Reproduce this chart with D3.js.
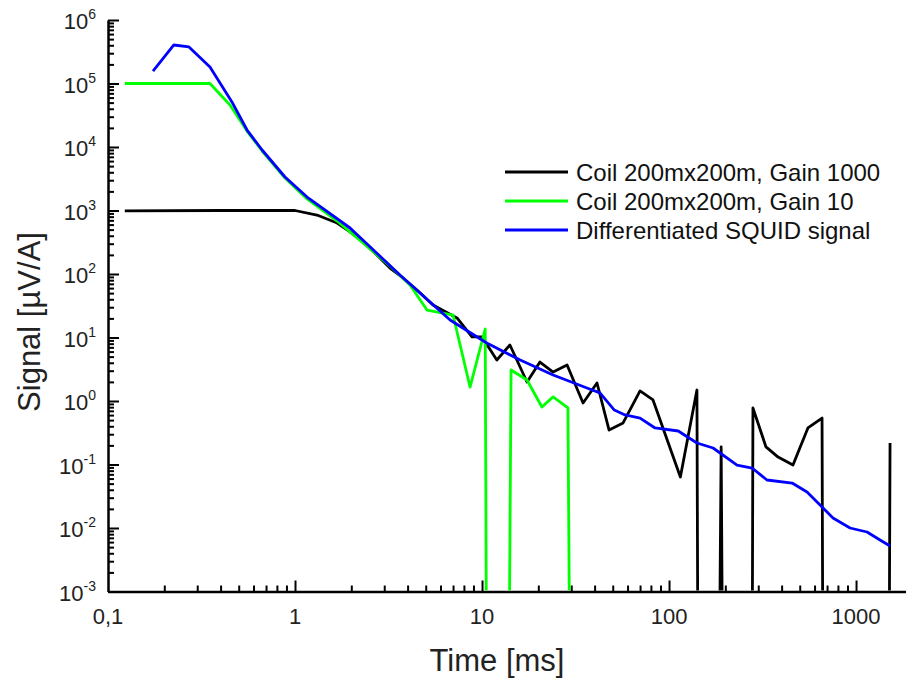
<!DOCTYPE html>
<html>
<head>
<meta charset="utf-8">
<script src="https://cdnjs.cloudflare.com/ajax/libs/d3/7.8.5/d3.min.js"></script>
<style>
  body { margin: 0; background: #fff; }
  svg { display: block; font-family: "Liberation Sans", Arial, sans-serif; }
</style>
</head>
<body>
<script>
// Coil 200mx200m, Gain 1000 (0 = value below the log range)
var time1000 = [0.123, 0.4, 1.0, 1.31, 1.68, 1.97, 2.31, 2.74, 3.22, 3.78, 4.49, 5.47, 7.35, 8.84, 10.0,
    12.0, 14.1, 17.4, 20.4, 24.0, 28.5, 34.7, 41.2, 47.8, 56.8, 70.0, 82.1, 115, 141, 143,
    185, 190, 194, 278, 281, 330, 383, 460, 553, 658, 666, 1500, 1520];
var signal1000 = [990, 1000, 1000, 849, 636, 459, 319, 199, 124, 86.5, 56, 32.5, 20.3, 10.2, 10.2,
    4.42, 7.62, 1.99, 4.11, 2.86, 3.69, 0.93, 1.92, 0.349, 0.451, 1.44, 1.04, 0.0635, 1.49, 0,
    0, 0.189, 0, 0, 0.776, 0.189, 0.131, 0.098, 0.376, 0.539, 0, 0, 0.218];

// Coil 200mx200m, Gain 10
var time10 = [0.123, 0.351, 0.449, 0.554, 0.667, 0.884, 1.16, 1.68, 2.31, 3.22, 4.12, 5.08, 7.0,
    8.63, 10.4, 10.6, 13.9, 14.3, 17.4, 20.9, 24.0, 28.8, 29.6];
var signal10 = [1e5, 1e5, 4.58e4, 1.78e4, 8650, 3250, 1520, 683, 308, 134, 67.1, 27.1, 22.6,
    1.66, 13.6, 0, 0, 3.08, 2.14, 0.806, 1.16, 0.776, 0];

// Differentiated SQUID signal
var timeSquid = [0.174, 0.225, 0.271, 0.351, 0.46, 0.554, 0.667, 0.884, 1.16, 1.97, 3.64, 6.75,
    10.6, 16.0, 24.0, 36.4, 42.7, 51.0, 58.2, 70.0, 84.2, 112, 141, 172, 231, 278, 334, 455, 547,
    753, 929, 1145, 1344, 1520];
var signalSquid = [1.57e5, 4.04e5, 3.76e5, 1.82e5, 5.12e4, 1.85e4, 8970, 3370, 1630, 530, 96.4, 18.9,
    8.19, 4.42, 2.57, 1.60, 1.34, 0.72, 0.603, 0.539, 0.376, 0.337, 0.218, 0.182, 0.098, 0.088, 0.057,
    0.051, 0.0369, 0.0144, 0.010, 0.00865, 0.00647, 0.00521];

var seriesNames = ["Coil 200mx200m, Gain 1000", "Coil 200mx200m, Gain 10", "Differentiated SQUID signal"];
var seriesColors = ["#000000", "#00ff00", "#0000ff"];

var xMajorTicks = [1, 10, 100, 1000];
var xTickLabels = ["0,1", "1", "10", "100", "1000"];
var xLabelValues = [0.1, 1, 10, 100, 1000];
var yExponents = [-3, -2, -1, 0, 1, 2, 3, 4, 5, 6];

(function () {

    var w = 906, h = 681;
    var pLeft = 108, pRight = 906, pTop = 20, pBottom = 591.5;

    var svg = d3.select("body").append("svg")
        .attr("width", w)
        .attr("height", h);

    var x = d3.scaleLog().domain([0.1, 1850]).range([pLeft, pRight]);
    var y = d3.scaleLog().domain([1e-3, 1e6]).range([pBottom, pTop]);

    function isPow10(v) {
        var l = Math.log10(v);
        return Math.abs(l - Math.round(l)) < 1e-9;
    }

    // minor ticks, then major ticks (both point inward)
    var xMinor = x.ticks().filter(function (v) { return !isPow10(v); });
    var yMinor = y.ticks().filter(function (v) { return !isPow10(v); });

    svg.append("g")
        .attr("transform", "translate(0," + pBottom + ")")
        .call(d3.axisBottom(x).tickValues(xMinor).tickSizeInner(-6).tickSizeOuter(0).tickFormat(""))
        .call(function (g) { g.select(".domain").remove(); })
        .selectAll("line").attr("stroke-width", 2);

    svg.append("g")
        .attr("transform", "translate(" + pLeft + ",0)")
        .call(d3.axisLeft(y).tickValues(yMinor).tickSizeInner(-6).tickSizeOuter(0).tickFormat(""))
        .call(function (g) { g.select(".domain").remove(); })
        .selectAll("line").attr("stroke-width", 2);

    var xAxis = svg.append("g")
        .attr("transform", "translate(0," + pBottom + ")")
        .call(d3.axisBottom(x).tickValues(xMajorTicks).tickSizeInner(-11).tickSizeOuter(0).tickFormat(""));
    xAxis.select(".domain").attr("stroke-width", 2.5);
    xAxis.selectAll("line").attr("stroke-width", 2);

    var yAxis = svg.append("g")
        .attr("transform", "translate(" + pLeft + ",0)")
        .call(d3.axisLeft(y).tickValues(yExponents.map(function (e) { return Math.pow(10, e); }))
            .tickSizeInner(-11).tickSizeOuter(0).tickFormat(""));
    yAxis.select(".domain").attr("stroke-width", 2.5);
    yAxis.selectAll("line").attr("stroke-width", 2);

    // x tick labels
    svg.append("g").selectAll("text")
        .data(xLabelValues)
        .enter()
        .append("text")
        .attr("x", function (d) { return x(d); })
        .attr("y", pBottom + 32)
        .attr("text-anchor", "middle")
        .attr("font-size", 22)
        .attr("fill", "#222")
        .text(function (d, i) { return xTickLabels[i]; });

    // y tick labels 10^n
    var yLab = svg.append("g").selectAll("text")
        .data(yExponents)
        .enter()
        .append("text")
        .attr("x", pLeft - 12)
        .attr("y", function (d) { return y(Math.pow(10, d)) + 9; })
        .attr("text-anchor", "end")
        .attr("font-size", 22)
        .attr("fill", "#222");
    yLab.append("tspan").text("10");
    yLab.append("tspan")
        .attr("dy", -10)
        .attr("font-size", 14)
        .text(function (d) { return d; });

    // data lines, clipped at the axes
    svg.append("clipPath").attr("id", "plot")
        .append("rect")
        .attr("x", pLeft).attr("y", 0)
        .attr("width", pRight - pLeft).attr("height", pBottom - 1);

    var line = d3.line()
        .x(function (d) { return x(d[0]); })
        .y(function (d) { return y(d[1] > 0 ? d[1] : 1e-5); });

    var series = [
        d3.zip(time1000, signal1000),
        d3.zip(time10, signal10),
        d3.zip(timeSquid, signalSquid)
    ];

    svg.append("g").attr("clip-path", "url(#plot)")
        .selectAll("path")
        .data(series)
        .enter()
        .append("path")
        .attr("d", line)
        .attr("fill", "none")
        .attr("stroke", function (d, i) { return seriesColors[i]; })
        .attr("stroke-width", 2.8)
        .attr("stroke-linejoin", "round");

    // legend
    var leg = svg.append("g").selectAll("g")
        .data(seriesNames)
        .enter()
        .append("g")
        .attr("transform", function (d, i) { return "translate(505," + (172 + i * 29) + ")"; });
    leg.append("line")
        .attr("x1", 0).attr("x2", 63)
        .attr("stroke", function (d, i) { return seriesColors[i]; })
        .attr("stroke-width", 2.8);
    leg.append("text")
        .attr("x", 71)
        .attr("dy", "0.36em")
        .attr("font-size", 24)
        .attr("fill", "#111")
        .text(function (d) { return d; });

    // axis titles
    svg.append("text")
        .attr("x", 497)
        .attr("y", 671)
        .attr("text-anchor", "middle")
        .attr("font-size", 31)
        .attr("fill", "#222")
        .text("Time [ms]");

    svg.append("text")
        .attr("transform", "translate(40,322) rotate(-90)")
        .attr("text-anchor", "middle")
        .attr("font-size", 31)
        .attr("fill", "#222")
        .text("Signal [µV/A]");
})();
</script>
</body>
</html>
